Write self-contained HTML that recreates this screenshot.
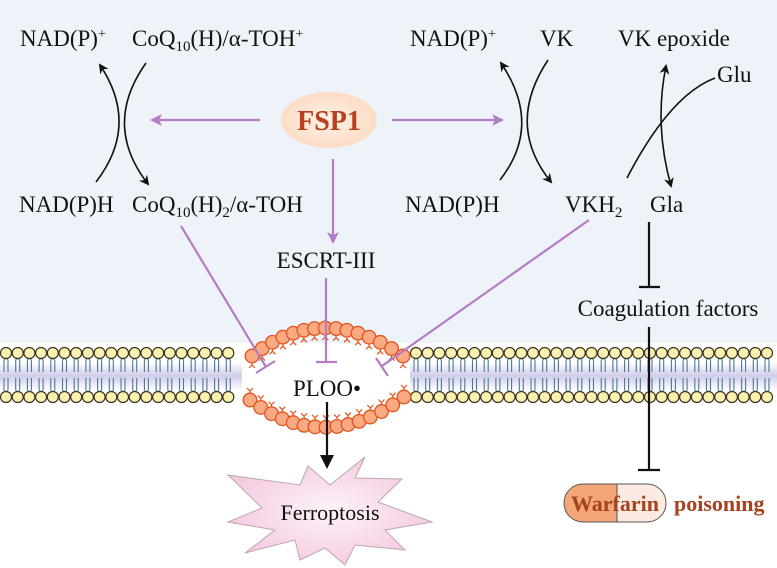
<!DOCTYPE html>
<html><head><meta charset="utf-8"><style>
html,body{margin:0;padding:0;background:#fff}
svg{display:block}
text{font-family:"Liberation Serif",serif;fill:#111}
</style></head><body>
<svg id="s" width="777" height="568" viewBox="0 0 777 568" xmlns="http://www.w3.org/2000/svg">
<defs>
<marker id="ab" markerWidth="10" markerHeight="10" refX="8" refY="5" orient="auto-start-reverse" markerUnits="userSpaceOnUse"><path d="M0,0 L10,5 L0,10 L3,5 z" fill="#111"/></marker>
<marker id="ap" markerWidth="12" markerHeight="12" refX="10" refY="6" orient="auto" markerUnits="userSpaceOnUse"><path d="M0,0 L12,6 L0,12 L3,6 z" fill="#b47cc4"/></marker>
<linearGradient id="band" x1="0" y1="0" x2="0" y2="1"><stop offset="0" stop-color="#fff"/><stop offset="0.5" stop-color="#cfcde9"/><stop offset="1" stop-color="#fff"/></linearGradient>
<radialGradient id="star" cx="0.5" cy="0.5" r="0.6"><stop offset="0" stop-color="#fdf3f9"/><stop offset="1" stop-color="#f3c5dc"/></radialGradient>
<radialGradient id="fsp" cx="0.5" cy="0.5" r="0.6"><stop offset="0" stop-color="#fff1e6"/><stop offset="1" stop-color="#fbd9bf"/></radialGradient>
</defs>
<rect x="0" y="0" width="777" height="343" fill="#eef3f9"/>
<g id="mem"></g>
<!-- left cycle -->
<path d="M96,182 Q140,125 100,65" fill="none" stroke="#111" stroke-width="1.6" marker-end="url(#ab)"/>
<path d="M146,63 Q102,125 148,184" fill="none" stroke="#111" stroke-width="1.6" marker-end="url(#ab)"/>
<!-- right cycle -->
<path d="M500,180 Q543,125 501,63" fill="none" stroke="#111" stroke-width="1.6" marker-end="url(#ab)"/>
<path d="M548,60 Q505,125 551,182" fill="none" stroke="#111" stroke-width="1.6" marker-end="url(#ab)"/>
<path d="M627,178 Q670,95 715,78" fill="none" stroke="#111" stroke-width="1.6"/>
<path d="M666,66 Q654,125 671,186" fill="none" stroke="#111" stroke-width="1.6" marker-start="url(#ab)" marker-end="url(#ab)"/>
<!-- FSP1 -->
<ellipse cx="329" cy="120" rx="48" ry="28" fill="url(#fsp)"/>
<text x="329" y="130" text-anchor="middle" font-size="28" font-weight="bold" style="fill:#b8401c">FSP1</text>
<g stroke="#b47cc4" stroke-width="2.2" fill="none">
<line x1="260" y1="120" x2="152" y2="120" marker-end="url(#ap)"/>
<line x1="392" y1="120" x2="502" y2="120" marker-end="url(#ap)"/>
<line x1="333" y1="159" x2="333" y2="242" marker-end="url(#ap)"/>
<line x1="326" y1="278" x2="326" y2="362"/>
<line x1="316" y1="362" x2="337" y2="362"/>
<line x1="181" y1="226" x2="266" y2="367"/>
<line x1="256" y1="373" x2="275" y2="361"/>
<line x1="589" y1="220" x2="382" y2="366"/>
<line x1="376" y1="358" x2="388" y2="376"/>
</g>
<!-- black inhibition -->
<g stroke="#111" stroke-width="2.2">
<line x1="649" y1="222" x2="649" y2="287"/><line x1="639" y1="287" x2="660" y2="287"/>
<line x1="649" y1="327" x2="649" y2="470"/><line x1="638" y1="470" x2="660" y2="470"/>
<line x1="327" y1="402" x2="327" y2="455"/>
</g>
<path d="M320,455 L334,455 L327,469 z" fill="#111"/>
<!-- texts -->
<g font-size="23">
<text x="20" y="46">NAD(P)<tspan font-size="14" dy="-8">+</tspan></text>
<text x="132" y="46">CoQ<tspan font-size="15" dy="5">10</tspan><tspan dy="-5">(H)/α-TOH</tspan><tspan font-size="14" dy="-8">+</tspan></text>
<text x="19" y="212">NAD(P)H</text>
<text x="132" y="212">CoQ<tspan font-size="15" dy="5">10</tspan><tspan dy="-5">(H)</tspan><tspan font-size="15" dy="5">2</tspan><tspan dy="-5">/α-TOH</tspan></text>
<text x="410" y="46">NAD(P)<tspan font-size="14" dy="-8">+</tspan></text>
<text x="540" y="46">VK</text>
<text x="618" y="46">VK epoxide</text>
<text x="717" y="82">Glu</text>
<text x="405" y="212">NAD(P)H</text>
<text x="565" y="212">VKH<tspan font-size="15" dy="5">2</tspan></text>
<text x="650" y="212">Gla</text>
<text x="326" y="268" text-anchor="middle">ESCRT-III</text>
<text x="668" y="316" text-anchor="middle">Coagulation factors</text>
<text x="327" y="396" text-anchor="middle">PLOO•</text>
</g>
<!-- star -->
<path d="M228,475 L300,485 L308,466 L330,485 L365,457 L355,478 L402,479 L378,502 L432,522 L385,530 L405,550 L355,545 L345,565 L325,548 L300,560 L295,540 L245,553 L275,530 L228,522 L262,508 z" fill="url(#star)" stroke="#b9a7b4" stroke-width="1"/>
<text x="330" y="520" text-anchor="middle" font-size="22">Ferroptosis</text>
<!-- pill -->
<path d="M617,484 L583,484 A19,19 0 0 0 583,522 L617,522 z" fill="#f2a679" stroke="#555" stroke-width="1"/>
<path d="M617,484 L647,484 A19,19 0 0 1 647,522 L617,522 z" fill="#fdebe1" stroke="#555" stroke-width="1"/>
<text x="615" y="511" text-anchor="middle" font-size="22" font-weight="bold" style="fill:#a5421f">Warfarin</text>
<text x="674" y="511" font-size="22" font-weight="bold" style="fill:#a5421f">poisoning</text>
</svg>
<script>
(function(){
var g=document.getElementById("mem"),h="";
function seg(x0,x1){
 h+='<rect x="'+x0+'" y="362" width="'+(x1-x0)+'" height="28" fill="url(#band)"/>';
 for(var x=x0+6;x<=x1-5;x+=11.7){
  h+='<path d="M'+(x-2)+',360 L'+(x-2)+',372 M'+(x+2)+',360 L'+(x+2)+',372 M'+(x-2)+',360 Q'+x+',357 '+(x+2)+',360" stroke="#4d7896" stroke-width="1.1" fill="none"/>';
  h+='<path d="M'+(x-2)+',378 L'+(x-2)+',390 M'+(x+2)+',378 L'+(x+2)+',390 M'+(x-2)+',390 Q'+x+',393 '+(x+2)+',390" stroke="#4d7896" stroke-width="1.1" fill="none"/>';
  h+='<circle cx="'+x+'" cy="353" r="5.5" fill="#faf0b0" stroke="#3a3320" stroke-width="1.2"/>';
  h+='<circle cx="'+x+'" cy="397" r="5.5" fill="#faf0b0" stroke="#3a3320" stroke-width="1.2"/>';
 }
}
seg(0,242);seg(410,777);
function arc(x0,y0,cx,cy,x1,y1,up){
 var n=14,tails="",heads="";
 for(var i=0;i<=n;i++){
  var t=i/n,x=(1-t)*(1-t)*x0+2*(1-t)*t*cx+t*t*x1,y=(1-t)*(1-t)*y0+2*(1-t)*t*cy+t*t*y1;
  var d=up?-1:1;
  var ty=y+d*12;
  tails+='<line x1="'+x+'" y1="'+y+'" x2="'+x+'" y2="'+(ty-d*3)+'" stroke="#e2531c" stroke-width="1.2"/>';
  tails+='<path d="M'+(x-3)+','+ty+' L'+x+','+(ty-d*3)+' L'+(x+3)+','+ty+'" stroke="#e2531c" stroke-width="1.2" fill="none"/>';
  heads+='<circle cx="'+x+'" cy="'+y+'" r="6.8" fill="#f9aa82" stroke="#e2531c" stroke-width="1.3"/>';
 }
 h+=tails+heads;
}
arc(252,356,323,300,403,356,false);
arc(250,400,325,456,404,397,true);
g.innerHTML=h;
})();
</script>
</body></html>
